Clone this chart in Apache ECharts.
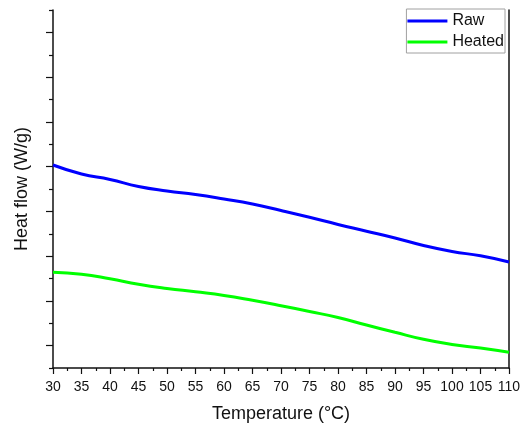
<!DOCTYPE html>
<html>
<head>
<meta charset="utf-8">
<script src="https://cdn.jsdelivr.net/npm/echarts@6/dist/echarts.min.js"></script>
<style>html,body{margin:0;padding:0;background:#fff}#c{width:523px;height:426px}</style>
</head>
<body>
<div id="c"></div>
<script>
var temperature = [30, 35, 40, 45, 50, 55, 60, 65, 70, 75, 80, 85, 90, 95, 100, 105, 110];
var rawFlow = [4.536, 4.335, 4.212, 4.056, 3.955, 3.877, 3.777, 3.665, 3.520, 3.368, 3.207, 3.057, 2.905, 2.737, 2.603, 2.507, 2.369];
var heatedFlow = [2.139, 2.094, 1.993, 1.873, 1.779, 1.703, 1.622, 1.513, 1.392, 1.263, 1.128, 0.961, 0.798, 0.641, 0.525, 0.447, 0.351];
var xTicks = [30, 35, 40, 45, 50, 55, 60, 65, 70, 75, 80, 85, 90, 95, 100, 105, 110];

function pairs(xs, ys) { return xs.map(function (x, i) { return [x, ys[i]]; }); }

var font = '"Liberation Sans", Arial, sans-serif';
var chart = echarts.init(document.getElementById('c'), null, { renderer: 'canvas' });
chart.setOption({
  animation: false,
  backgroundColor: '#fff',
  textStyle: { fontFamily: font },
  grid: { left: 53, right: 14, top: 10, bottom: 58, containLabel: false, outerBoundsMode: 'none' },
  legend: {
    right: 18, top: 9,
    orient: 'vertical',
    icon: 'rect',
    itemWidth: 40, itemHeight: 3,
    itemGap: 5,
    padding: [4, 1, 3, 1],
    borderColor: '#a0a0a0', borderWidth: 1,
    textStyle: { fontFamily: font, fontSize: 16, color: '#111' },
    data: ['Raw', 'Heated']
  },
  xAxis: {
    type: 'value',
    min: xTicks[0], max: xTicks[xTicks.length - 1], interval: 5,
    name: 'Temperature (°C)',
    nameLocation: 'middle', nameGap: 37,
    nameTextStyle: { fontFamily: font, fontSize: 18, color: '#111' },
    axisLine: { show: true, lineStyle: { color: '#111', width: 1.5 } },
    axisTick: { show: true, length: 6, lineStyle: { color: '#111', width: 1.2 } },
    minorTick: { show: true, splitNumber: 2, length: 3, lineStyle: { color: '#111', width: 1.2 } },
    axisLabel: { fontFamily: font, fontSize: 14, color: '#111', margin: 12 },
    splitLine: { show: false }
  },
  yAxis: [{
    type: 'value',
    min: 0, max: 8, interval: 1,
    name: 'Heat flow (W/g)',
    nameLocation: 'middle', nameGap: 22,
    nameTextStyle: { fontFamily: font, fontSize: 18, color: '#111' },
    axisLine: { show: true, onZero: false, lineStyle: { color: '#111', width: 1.5 } },
    axisTick: { show: true, length: 4, lineStyle: { color: '#111', width: 1.2 } },
    minorTick: { show: true, splitNumber: 2, length: 7, lineStyle: { color: '#111', width: 1.2 } },
    axisLabel: { show: false },
    splitLine: { show: false }
  }, {
    type: 'value', position: 'right',
    min: 0, max: 8, interval: 1,
    axisLine: { show: true, onZero: false, lineStyle: { color: '#111', width: 1.5 } },
    axisTick: { show: false },
    axisLabel: { show: false },
    splitLine: { show: false }
  }],
  series: [{
    name: 'Raw', type: 'line', smooth: true, showSymbol: false, symbol: 'none',
    data: pairs(temperature, rawFlow),
    lineStyle: { color: '#0000ff', width: 3 }, itemStyle: { color: '#0000ff' }
  }, {
    name: 'Heated', type: 'line', smooth: true, showSymbol: false, symbol: 'none',
    data: pairs(temperature, heatedFlow),
    lineStyle: { color: '#00ff00', width: 3 }, itemStyle: { color: '#00ff00' }
  }]
});
</script>
</body>
</html>
